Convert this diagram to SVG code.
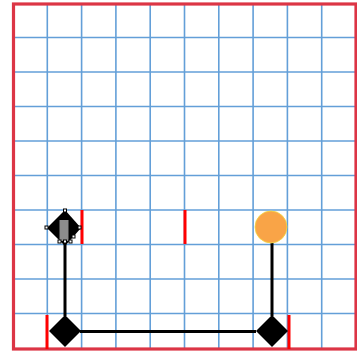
<svg xmlns="http://www.w3.org/2000/svg" width="357" height="354" viewBox="0 0 357 354">
<style>
.grid line{stroke:#639fd8;stroke-width:1.6}
.edge{stroke:#000;stroke-width:3;fill:none}
.mark{stroke:#ff0000;stroke-width:3}
.dia{fill:#000}
.handle{fill:#fff;stroke:#000;stroke-width:1}
</style>
<rect width="357" height="354" fill="#fff"/>
<g class="grid">
<line x1="47.3" y1="3" x2="47.3" y2="349"/>
<line x1="81.6" y1="3" x2="81.6" y2="349"/>
<line x1="115.9" y1="3" x2="115.9" y2="349"/>
<line x1="150.2" y1="3" x2="150.2" y2="349"/>
<line x1="184.5" y1="3" x2="184.5" y2="349"/>
<line x1="218.8" y1="3" x2="218.8" y2="349"/>
<line x1="253.1" y1="3" x2="253.1" y2="349"/>
<line x1="287.4" y1="3" x2="287.4" y2="349"/>
<line x1="321.7" y1="3" x2="321.7" y2="349"/>
<line x1="13" y1="37.5" x2="357" y2="37.5"/>
<line x1="13" y1="72" x2="357" y2="72"/>
<line x1="13" y1="106.5" x2="357" y2="106.5"/>
<line x1="13" y1="141" x2="357" y2="141"/>
<line x1="13" y1="175.5" x2="357" y2="175.5"/>
<line x1="13" y1="210" x2="357" y2="210"/>
<line x1="13" y1="244.5" x2="357" y2="244.5"/>
<line x1="13" y1="279" x2="357" y2="279"/>
<line x1="13" y1="313.5" x2="357" y2="313.5"/>
</g>
<rect x="13.5" y="4" width="342.5" height="345" fill="none" stroke="#dc3545" stroke-width="3.2"/>
<g id="connectors">
<line class="edge" x1="65" y1="244" x2="65" y2="316"/>
<line class="edge" x1="272" y1="243" x2="272" y2="316"/>
<line class="edge" x1="80" y1="331.5" x2="256" y2="331.5"/>
</g>
<g id="marks">
<line class="mark" x1="82" y1="210" x2="82" y2="244"/>
<line class="mark" x1="185" y1="210" x2="185" y2="244"/>
<line class="mark" x1="47" y1="315" x2="47" y2="349"/>
<line class="mark" x1="289" y1="315" x2="289" y2="349"/>
</g>
<g id="node-a">
<polygon class="dia" points="65,210 81,228 65,246 47,228"/>
<rect x="59.5" y="220" width="9" height="21" fill="#8c8c8c"/>
<rect class="handle" x="45" y="226" width="3" height="3"/>
<rect class="handle" x="78" y="226" width="3" height="3"/>
<rect class="handle" x="63.5" y="209" width="3" height="3"/>
<rect class="handle" x="58" y="240" width="3" height="3"/>
<rect class="handle" x="63.5" y="240" width="3" height="3"/>
<rect class="handle" x="69" y="240" width="3" height="3"/>
<rect class="handle" x="72" y="235" width="3" height="3"/>
</g>
<g id="node-b">
<circle cx="271" cy="227" r="16" fill="#f9a447" stroke="#f0d840" stroke-width="0.8"/>
</g>
<g id="node-c">
<polygon class="dia" points="65,315 81,331 65,347 49,331"/>
</g>
<g id="node-d">
<polygon class="dia" points="272,315 288,331 272,347 256,331"/>
</g>
</svg>
